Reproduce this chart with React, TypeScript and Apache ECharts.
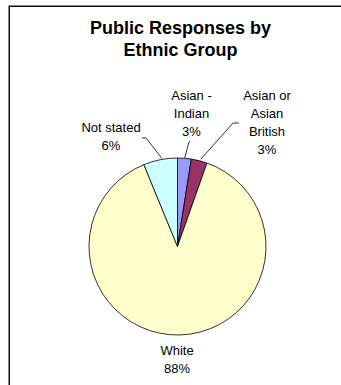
import React, { useEffect, useRef } from "react";
import * as echarts from "echarts";

const categories = ["Asian -\nIndian", "Asian or\nAsian\nBritish", "White", "Not stated"];
const values = [2.5, 2.9, 88.4, 6.2];
const colors = ["#9999FF", "#993366", "#FFFFCC", "#CCFFFF"];

// label block centres and leader lines (layout only)
const labelPos = [
  { x: 191.5, y: 113, line: [[184.5, 158.5], [189, 142], [190, 141]] },
  { x: 267, y: 122.5, line: [[201, 159], [233, 123], [239, 123]] },
  { x: 177, y: 359.5, line: null },
  { x: 111, y: 136, line: [[162, 158.5], [146, 138], [142, 138]] },
];

export default function App() {
  const ref = useRef<HTMLDivElement>(null);
  useEffect(() => {
    if (!ref.current) return;
    const chart = echarts.init(ref.current, null, { renderer: "svg" });
    chart.setOption({
      animation: false,
      backgroundColor: "#ffffff",
      title: {
        text: "Public Responses by\nEthnic Group",
        left: 180.5,
        top: 17,
        textAlign: "center",
        padding: 0,
        textStyle: {
          fontFamily: "Liberation Sans, Arial, sans-serif",
          fontSize: 18,
          fontWeight: "bold",
          color: "#000",
          lineHeight: 22,
        },
      },
      graphic: [
        {
          type: "rect",
          shape: { x: 9.25, y: 6.25, width: 500, height: 500 },
          style: { fill: "none", stroke: "#111", lineWidth: 1.5 },
          silent: true,
        },
      ],
      series: [
        {
          type: "pie",
          center: [177.5, 246.5],
          radius: 88.5,
          startAngle: 90,
          clockwise: true,
          avoidLabelOverlap: false,
          data: categories.map((name, i) => ({
            name,
            value: values[i],
            itemStyle: { color: colors[i] },
            labelLine: { show: labelPos[i].line !== null },
          })),
          itemStyle: { borderColor: "#000", borderWidth: 0.8 },
          label: {
            show: true,
            position: "outside",
            formatter: (p: any) => `${p.name}\n${Math.round(p.percent)}%`,
            fontFamily: "Liberation Sans, Arial, sans-serif",
            fontSize: 13,
            lineHeight: 18,
            color: "#000",
            align: "center",
          },
          labelLine: {
            show: true,
            lineStyle: { color: "#000", width: 0.8 },
            smooth: false,
          },
          labelLayout: (params: any) => {
            const lp = labelPos[params.dataIndex];
            const out: any = {
              x: lp.x,
              y: lp.y,
              align: "center",
              verticalAlign: "middle",
            };
            if (lp.line) out.labelLinePoints = lp.line;
            return out;
          },
          emphasis: { disabled: true },
        },
      ],
    });
    return () => chart.dispose();
  }, []);
  return (
    <div
      ref={ref}
      style={{ position: "absolute", left: 0, top: 0, width: 341, height: 385, background: "#fff" }}
    />
  );
}
